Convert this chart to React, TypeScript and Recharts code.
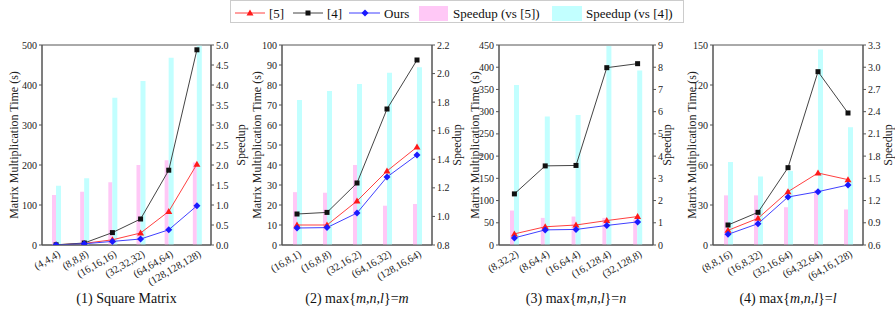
import React from 'react';
import {
  ComposedChart,
  Bar,
  Line,
  XAxis,
  YAxis,
  ReferenceArea
} from 'recharts';

const FONT = '"Liberation Serif", "Times New Roman", serif';

// panel 1: square matrix
const cats1 = ['(4,4,4)', '(8,8,8)', '(16,16,16)', '(32,32,32)', '(64,64,64)', '(128,128,128)'];
const ref5_1 = [0.4, 4, 13, 30, 84, 202];
const ref4_1 = [0.5, 5, 31, 65, 187, 488];
const ours_1 = [0.3, 3, 9, 15, 38, 98];
const sp5_1 = [1.25, 1.33, 1.57, 2.0, 2.12, 2.06];
const sp4_1 = [1.48, 1.67, 3.68, 4.1, 4.68, 4.98];

// panel 2: max{m,n,l}=m
const cats2 = ['(16,8,1)', '(16,8,8)', '(32,16,2)', '(64,16,32)', '(128,16,64)'];
const ref5_2 = [10, 10, 22, 37, 49];
const ref4_2 = [15.5, 16.3, 31, 68, 92.5];
const ours_2 = [8.5, 8.7, 16, 34, 45];
const sp5_2 = [1.17, 1.166, 1.36, 1.075, 1.087];
const sp4_2 = [1.815, 1.878, 1.927, 2.006, 2.045];

// panel 3: max{m,n,l}=n
const cats3 = ['(8,32,2)', '(8,64,4)', '(16,64,4)', '(16,128,4)', '(32,128,8)'];
const ref5_3 = [25, 41, 45, 55, 64];
const ref4_3 = [115, 178, 179, 399, 408];
const ours_3 = [16, 34, 35, 44, 52];
const sp5_3 = [1.55, 1.22, 1.28, 1.22, 1.15];
const sp4_3 = [7.2, 5.78, 5.85, 8.95, 7.85];

// panel 4: max{m,n,l}=l
const cats4 = ['(8,8,16)', '(16,8,32)', '(32,16,64)', '(64,32,64)', '(64,16,128)'];
const ref5_4 = [11, 20, 40, 54, 49];
const ref4_4 = [15, 24.5, 58, 130, 99];
const ours_4 = [8, 16, 36, 40, 45];
const sp5_4 = [1.27, 1.27, 1.11, 1.34, 1.08];
const sp4_4 = [1.72, 1.525, 1.6, 3.24, 2.19];

const leftTicks1 = [0, 100, 200, 300, 400, 500];
const rightTicks1 = [0, 0.5, 1.0, 1.5, 2.0, 2.5, 3.0, 3.5, 4.0, 4.5, 5.0];
const leftTicks2 = [0, 10, 20, 30, 40, 50, 60, 70, 80, 90, 100];
const rightTicks2 = [0.8, 1.0, 1.2, 1.4, 1.6, 1.8, 2.0, 2.2];
const leftTicks3 = [0, 50, 100, 150, 200, 250, 300, 350, 400, 450];
const rightTicks3 = [0, 1, 2, 3, 4, 5, 6, 7, 8, 9];
const leftTicks4 = [0, 30, 60, 90, 120, 150];
const rightTicks4 = [0.6, 0.9, 1.2, 1.5, 1.8, 2.1, 2.4, 2.7, 3.0, 3.3];

const buildRows = (cats: string[], r5: number[], r4: number[], ours: number[], s5: number[], s4: number[]) =>
  cats.map((cat, i) => ({ cat, r5: r5[i], r4: r4[i], ours: ours[i], s5: s5[i], s4: s4[i] }));

const AXIS_W = 45;
const PLOT_TOP = 45;
const PLOT_BOTTOM = 245;

const TriangleDot = (props: any) => {
  const { cx, cy } = props;
  if (cx == null || cy == null) return null;
  return <polygon points={`${cx},${cy - 3.5} ${cx - 3.5},${cy + 2.5} ${cx + 3.5},${cy + 2.5}`} fill="#ff1a1a" />;
};

const SquareDot = (props: any) => {
  const { cx, cy } = props;
  if (cx == null || cy == null) return null;
  return <rect x={cx - 2.5} y={cy - 2.5} width={5} height={5} fill="#111" />;
};

const DiamondDot = (props: any) => {
  const { cx, cy } = props;
  if (cx == null || cy == null) return null;
  return <polygon points={`${cx},${cy - 3.5} ${cx + 3.5},${cy} ${cx},${cy + 3.5} ${cx - 3.5},${cy}`} fill="#1a1aff" />;
};

const XTick = (props: any) => {
  const { x, payload } = props;
  const tx = x + 5;
  const ty = PLOT_BOTTOM + 11;
  return (
    <text
      x={tx}
      y={ty}
      textAnchor="end"
      transform={`rotate(-30, ${tx}, ${ty})`}
      fontSize={10.5}
      fontFamily={FONT}
      fill="#222"
    >
      {payload.value}
    </text>
  );
};

// axis title drawn at a fixed x (chart coords), centred on the plot height
const AxisTitle = (props: any) => {
  const { tx, value } = props;
  const cy = (PLOT_TOP + PLOT_BOTTOM) / 2;
  return (
    <text
      x={tx}
      y={cy}
      textAnchor="middle"
      dominantBaseline="central"
      transform={`rotate(-90, ${tx}, ${cy})`}
      fontSize={12}
      fontFamily={FONT}
      fill="#222"
    >
      {value}
    </text>
  );
};

interface PanelProps {
  rows: any[];
  plotLeft: number;
  plotRight: number;
  leftTicks: number[];
  rightTicks: number[];
  rightDecimals: number;
  leftTitleX: number;
  rightTitleX: number;
  caption: React.ReactNode;
}

const Panel: React.FC<PanelProps> = ({
  rows,
  plotLeft,
  plotRight,
  leftTicks,
  rightTicks,
  rightDecimals,
  leftTitleX,
  rightTitleX,
  caption
}) => {
  const originX = plotLeft - AXIS_W;
  const width = plotRight - plotLeft + AXIS_W * 2;
  const leftDomain = [leftTicks[0], leftTicks[leftTicks.length - 1]];
  const rightDomain = [rightTicks[0], rightTicks[rightTicks.length - 1]];
  const tickStyle = { fontSize: 10, fontFamily: FONT, fill: '#222' };

  return (
    <>
      <div style={{ position: 'absolute', left: originX, top: 0 }}>
        <ComposedChart
          width={width}
          height={PLOT_BOTTOM + 60}
          data={rows}
          margin={{ top: PLOT_TOP, right: 0, bottom: 0, left: 0 }}
          barGap={0}
        >
          <XAxis
            dataKey="cat"
            height={60}
            interval={0}
            tick={<XTick />}
            tickLine={false}
            axisLine={{ stroke: '#555' }}
          />
          <YAxis
            yAxisId="left"
            width={AXIS_W}
            domain={leftDomain}
            ticks={leftTicks}
            tick={tickStyle}
            tickSize={3}
            tickMargin={2}
            stroke="#555"
            allowDataOverflow
            label={<AxisTitle tx={leftTitleX - originX} value="Matrix Multiplication Time (s)" />}
          />
          <YAxis
            yAxisId="right"
            orientation="right"
            width={AXIS_W}
            domain={rightDomain}
            ticks={rightTicks}
            tick={tickStyle}
            tickSize={3}
            tickMargin={2}
            tickFormatter={(v: number) => v.toFixed(rightDecimals)}
            stroke="#555"
            allowDataOverflow
            label={<AxisTitle tx={rightTitleX - originX} value="Speedup" />}
          />
          <Bar yAxisId="right" dataKey="s5" fill="#ffc8f6" barSize={4} isAnimationActive={false} />
          <Bar yAxisId="right" dataKey="s4" fill="#c2ffff" barSize={5} isAnimationActive={false} />
          <Line
            yAxisId="left"
            dataKey="r5"
            stroke="#ff4040"
            strokeWidth={1}
            dot={<TriangleDot />}
            activeDot={false}
            isAnimationActive={false}
          />
          <Line
            yAxisId="left"
            dataKey="r4"
            stroke="#444"
            strokeWidth={1}
            dot={<SquareDot />}
            activeDot={false}
            isAnimationActive={false}
          />
          <Line
            yAxisId="left"
            dataKey="ours"
            stroke="#4040ff"
            strokeWidth={1}
            dot={<DiamondDot />}
            activeDot={false}
            isAnimationActive={false}
          />
          <ReferenceArea
            yAxisId="left"
            y1={leftDomain[0]}
            y2={leftDomain[1]}
            fill="none"
            stroke="#555"
            strokeWidth={1}
          />
        </ComposedChart>
      </div>
      <div
        style={{
          position: 'absolute',
          left: plotLeft - 60,
          width: plotRight - plotLeft + 120,
          top: 291,
          textAlign: 'center',
          fontFamily: FONT,
          fontSize: 14,
          color: '#111',
          whiteSpace: 'nowrap'
        }}
      >
        {caption}
      </div>
    </>
  );
};

const LegendBox = () => {
  const textStyle = { fontSize: 13, fontFamily: FONT, fill: '#111' };
  return (
    <svg style={{ position: 'absolute', left: 0, top: 0 }} width={895} height={26}>
      <rect x={230.5} y={0.5} width={453} height={22} fill="#fff" stroke="#ccc" />
      <line x1={235} y1={13} x2={265} y2={13} stroke="#ff4040" />
      <TriangleDot cx={250} cy={13} />
      <text x={269} y={18} {...textStyle}>[5]</text>
      <line x1={293} y1={13} x2={323} y2={13} stroke="#444" />
      <SquareDot cx={308} cy={13} />
      <text x={327} y={18} {...textStyle}>[4]</text>
      <line x1={349} y1={13} x2={380} y2={13} stroke="#4040ff" />
      <DiamondDot cx={365} cy={13} />
      <text x={384} y={18} {...textStyle}>Ours</text>
      <rect x={419} y={6} width={29} height={15} fill="#ffc8f6" />
      <text x={453} y={18} {...textStyle}>Speedup (vs [5])</text>
      <rect x={552} y={6} width={30} height={15} fill="#c2ffff" />
      <text x={586} y={18} {...textStyle}>Speedup (vs [4])</text>
    </svg>
  );
};

const mnl = (last: string) => (
  <>
    max{'{'}<i>m</i>,<i>n</i>,<i>l</i>{'}'}=<i>{last}</i>
  </>
);

export default function App() {
  return (
    <div
      style={{
        position: 'absolute',
        left: 0,
        top: 0,
        width: 895,
        height: 321,
        overflow: 'hidden',
        background: '#fff'
      }}
    >
      <LegendBox />
      <Panel
        rows={buildRows(cats1, ref5_1, ref4_1, ours_1, sp5_1, sp4_1)}
        plotLeft={42}
        plotRight={211}
        leftTicks={leftTicks1}
        rightTicks={rightTicks1}
        rightDecimals={1}
        leftTitleX={14}
        rightTitleX={241}
        caption="(1) Square Matrix"
      />
      <Panel
        rows={buildRows(cats2, ref5_2, ref4_2, ours_2, sp5_2, sp4_2)}
        plotLeft={282}
        plotRight={432}
        leftTitleX={257}
        rightTitleX={457}
        leftTicks={leftTicks2}
        rightTicks={rightTicks2}
        rightDecimals={1}
        caption={<>(2) {mnl('m')}</>}
      />
      <Panel
        rows={buildRows(cats3, ref5_3, ref4_3, ours_3, sp5_3, sp4_3)}
        plotLeft={499}
        plotRight={653}
        leftTicks={leftTicks3}
        rightTicks={rightTicks3}
        rightDecimals={0}
        leftTitleX={475}
        rightTitleX={667}
        caption={<>(3) {mnl('n')}</>}
      />
      <Panel
        rows={buildRows(cats4, ref5_4, ref4_4, ours_4, sp5_4, sp4_4)}
        plotLeft={713}
        plotRight={863}
        leftTicks={leftTicks4}
        rightTicks={rightTicks4}
        rightDecimals={1}
        leftTitleX={692}
        rightTitleX={888}
        caption={<>(4) {mnl('l')}</>}
      />
    </div>
  );
}
